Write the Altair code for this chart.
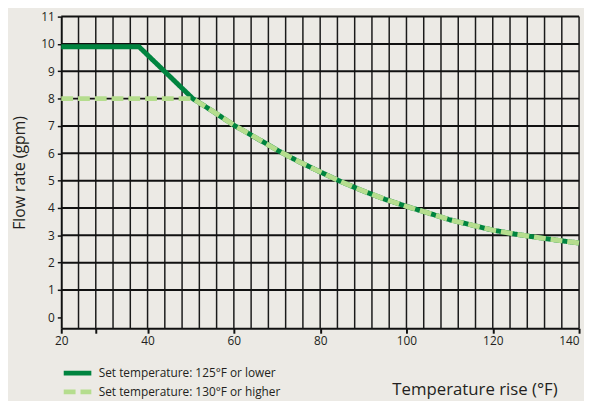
import altair as alt
import pandas as pd

series_names = ["Set temperature: 125°F or lower", "Set temperature: 130°F or higher"]
low_x = [20, 38, 50.5]
low_y = [9.9, 9.9, 8.0]
high_x = [20, 50.5]
high_y = [8.0, 8.0]
curve_x = [55, 60, 65, 70, 75, 80, 85, 90, 95, 100, 105, 110, 115, 120, 125, 130, 135, 140]
curve_y = [7.55, 7.03, 6.58, 6.12, 5.7, 5.32, 4.95, 4.62, 4.32, 4.06, 3.82, 3.57, 3.38, 3.19, 3.05, 2.93, 2.82, 2.72]
grid_x = list(range(24, 141, 4))
grid_y = list(range(1, 12))
x_ticks = [20, 28, 40, 60, 80, 100, 120, 140]
y_ticks = list(range(0, 12))

rows = []
for xs, ys, name in [(low_x, low_y, series_names[0]), (high_x, high_y, series_names[1])]:
    for a, b in zip(xs + curve_x, ys + curve_y):
        rows.append({"temp": a, "flow": b, "series": name})
df = pd.DataFrame(rows)
gx = pd.DataFrame({"gx": grid_x})
gy = pd.DataFrame({"gy": grid_y})

FONT = "Open Sans"
x_scale = alt.Scale(domain=[20, 140], nice=False, zero=False)
y_scale = alt.Scale(domain=[-0.4, 11], nice=False, zero=False)

x_axis = alt.Axis(values=x_ticks, labelExpr="datum.value == 28 ? '' : datum.label",
                  grid=False, tickSize=5, tickWidth=2, tickColor="#111", labelFlush=False,
                  labelAlign={"condition": {"test": "datum.value == 140", "value": "right"}, "value": "center"},
                  domainColor="#111", domainWidth=2, labelFontSize=12, labelFont=FONT,
                  labelColor="#231f20", labelPadding=2,
                  title="Temperature rise (°F)", titleFont=FONT, titleFontSize=17,
                  titleFontWeight="normal", titleColor="#231f20",
                  titleX=419, titleY=67, titleBaseline="alphabetic", titleAnchor="middle")
y_axis = alt.Axis(values=y_ticks, grid=False, tickSize=4, tickWidth=1.5, tickColor="#111",
                  domainColor="#111", domainWidth=2, labelFontSize=12, labelFont=FONT,
                  labelColor="#231f20", labelPadding=3, labelFlush=False,
                  title="Flow rate (gpm)", titleFont=FONT, titleFontSize=16,
                  titleFontWeight="normal", titleColor="#231f20", titlePadding=14)

leg = alt.Legend(orient="none", legendX=0, legendY=352, title=None,
                 symbolType="stroke", symbolSize=784, symbolStrokeWidth=5,
                 labelFont=FONT, labelFontSize=12, labelColor="#231f20", labelLimit=400,
                 labelOffset=5, rowPadding=0, clipHeight=19, padding=0)

vgrid = alt.Chart(gx).mark_rule(color="#1a1a1a", strokeWidth=1.5).encode(
    x=alt.X("gx:Q", scale=x_scale, axis=x_axis))
hgrid = alt.Chart(gy).mark_rule(color="#111", strokeWidth=2).encode(
    y=alt.Y("gy:Q", scale=y_scale, axis=y_axis))

lines = alt.Chart(df).mark_line(strokeWidth=5, strokeCap="butt", strokeJoin="miter").encode(
    x=alt.X("temp:Q", scale=x_scale, axis=x_axis),
    y=alt.Y("flow:Q", scale=y_scale, axis=y_axis),
    color=alt.Color("series:N", scale=alt.Scale(domain=series_names, range=["#00843F", "#B5DD8E"]),
                    legend=leg),
    strokeDash=alt.StrokeDash("series:N", scale=alt.Scale(domain=series_names, range=[[1, 0], [12, 5]]),
                              legend=leg),
)

chart = alt.layer(vgrid, hgrid, lines).properties(
    width=525, height=316,
    autosize=alt.AutoSizeParams(type="none"),
    padding={"left": 54, "top": 6, "right": 5, "bottom": 71},
    background="#ECEAE5",
).configure_view(stroke=None)

chart.save("out.html", embed_options={"renderer": "svg", "actions": False})
